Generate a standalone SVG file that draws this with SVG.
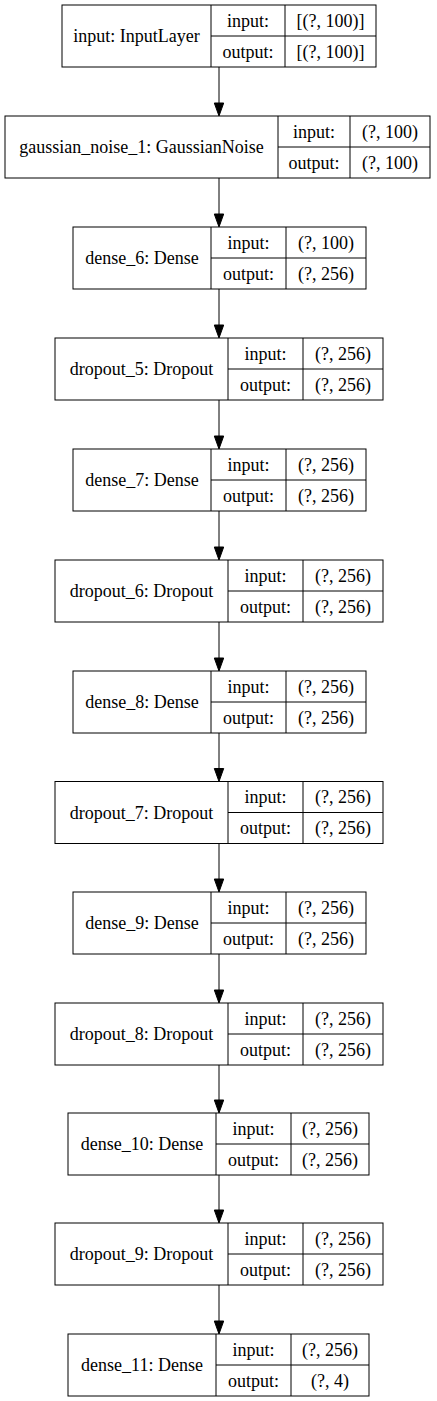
<svg xmlns="http://www.w3.org/2000/svg" width="437" height="1401" viewBox="0 0 437 1401">
<defs>
<style>
.b{fill:#fff;stroke:#000;stroke-width:1}
.l{stroke:#000;stroke-width:1;fill:none}
text{font-family:"Liberation Serif","Times New Roman",serif;font-size:18px;fill:#000;text-anchor:middle}
.e{stroke:#000;stroke-width:1;fill:none}
.h{fill:#000;stroke:#000;stroke-width:1}
</style>
</defs>
<rect width="437" height="1401" fill="#fff"/>
<g id="connectors">
<path class="e" d="M219,67V103"/><polygon class="h" points="214.3,103 223.7,103 219,116"/>
<path class="e" d="M219,178V214"/><polygon class="h" points="214.3,214 223.7,214 219,227"/>
<path class="e" d="M219,289V325"/><polygon class="h" points="214.3,325 223.7,325 219,338"/>
<path class="e" d="M219,400V436"/><polygon class="h" points="214.3,436 223.7,436 219,449"/>
<path class="e" d="M219,511V547"/><polygon class="h" points="214.3,547 223.7,547 219,560"/>
<path class="e" d="M219,622V658"/><polygon class="h" points="214.3,658 223.7,658 219,671"/>
<path class="e" d="M219,733V768.5"/><polygon class="h" points="214.3,768.5 223.7,768.5 219,781.5"/>
<path class="e" d="M219,843.5V879"/><polygon class="h" points="214.3,879 223.7,879 219,892"/>
<path class="e" d="M219,954V990"/><polygon class="h" points="214.3,990 223.7,990 219,1003"/>
<path class="e" d="M219,1065V1100"/><polygon class="h" points="214.3,1100 223.7,1100 219,1113"/>
<path class="e" d="M219,1175V1210"/><polygon class="h" points="214.3,1210 223.7,1210 219,1223"/>
<path class="e" d="M219,1285V1321"/><polygon class="h" points="214.3,1321 223.7,1321 219,1334"/>
</g>
<g id="input">
<rect class="b" x="62" y="5" width="314" height="62"/>
<path class="l" d="M211,5V67M285,5V67M211,36H376"/>
<text x="136.5" y="42">input: InputLayer</text>
<text x="248" y="26.5">input:</text>
<text x="248" y="57.5">output:</text>
<text x="330.5" y="26.5">[(?, 100)]</text>
<text x="330.5" y="57.5">[(?, 100)]</text>
</g>
<g id="gaussian_noise_1">
<rect class="b" x="5" y="116" width="425" height="62"/>
<path class="l" d="M278,116V178M350,116V178M278,147H430"/>
<text x="141.5" y="153">gaussian_noise_1: GaussianNoise</text>
<text x="314" y="137.5">input:</text>
<text x="314" y="168.5">output:</text>
<text x="390" y="137.5">(?, 100)</text>
<text x="390" y="168.5">(?, 100)</text>
</g>
<g id="dense_6">
<rect class="b" x="73" y="227" width="293" height="62"/>
<path class="l" d="M211,227V289M286,227V289M211,258H366"/>
<text x="142" y="264">dense_6: Dense</text>
<text x="248.5" y="248.5">input:</text>
<text x="248.5" y="279.5">output:</text>
<text x="326" y="248.5">(?, 100)</text>
<text x="326" y="279.5">(?, 256)</text>
</g>
<g id="dropout_5">
<rect class="b" x="55" y="338" width="328" height="62"/>
<path class="l" d="M228,338V400M303,338V400M228,369H383"/>
<text x="141.5" y="375">dropout_5: Dropout</text>
<text x="265.5" y="359.5">input:</text>
<text x="265.5" y="390.5">output:</text>
<text x="343" y="359.5">(?, 256)</text>
<text x="343" y="390.5">(?, 256)</text>
</g>
<g id="dense_7">
<rect class="b" x="73" y="449" width="293" height="62"/>
<path class="l" d="M211,449V511M286,449V511M211,480H366"/>
<text x="142" y="486">dense_7: Dense</text>
<text x="248.5" y="470.5">input:</text>
<text x="248.5" y="501.5">output:</text>
<text x="326" y="470.5">(?, 256)</text>
<text x="326" y="501.5">(?, 256)</text>
</g>
<g id="dropout_6">
<rect class="b" x="55" y="560" width="328" height="62"/>
<path class="l" d="M228,560V622M303,560V622M228,591H383"/>
<text x="141.5" y="597">dropout_6: Dropout</text>
<text x="265.5" y="581.5">input:</text>
<text x="265.5" y="612.5">output:</text>
<text x="343" y="581.5">(?, 256)</text>
<text x="343" y="612.5">(?, 256)</text>
</g>
<g id="dense_8">
<rect class="b" x="73" y="671" width="293" height="62"/>
<path class="l" d="M211,671V733M286,671V733M211,702H366"/>
<text x="142" y="708">dense_8: Dense</text>
<text x="248.5" y="692.5">input:</text>
<text x="248.5" y="723.5">output:</text>
<text x="326" y="692.5">(?, 256)</text>
<text x="326" y="723.5">(?, 256)</text>
</g>
<g id="dropout_7">
<rect class="b" x="55" y="781.5" width="328" height="62"/>
<path class="l" d="M228,781.5V843.5M303,781.5V843.5M228,812.5H383"/>
<text x="141.5" y="818.5">dropout_7: Dropout</text>
<text x="265.5" y="803">input:</text>
<text x="265.5" y="834">output:</text>
<text x="343" y="803">(?, 256)</text>
<text x="343" y="834">(?, 256)</text>
</g>
<g id="dense_9">
<rect class="b" x="73" y="892" width="293" height="62"/>
<path class="l" d="M211,892V954M286,892V954M211,923H366"/>
<text x="142" y="929">dense_9: Dense</text>
<text x="248.5" y="913.5">input:</text>
<text x="248.5" y="944.5">output:</text>
<text x="326" y="913.5">(?, 256)</text>
<text x="326" y="944.5">(?, 256)</text>
</g>
<g id="dropout_8">
<rect class="b" x="55" y="1003" width="328" height="62"/>
<path class="l" d="M228,1003V1065M303,1003V1065M228,1034H383"/>
<text x="141.5" y="1040">dropout_8: Dropout</text>
<text x="265.5" y="1024.5">input:</text>
<text x="265.5" y="1055.5">output:</text>
<text x="343" y="1024.5">(?, 256)</text>
<text x="343" y="1055.5">(?, 256)</text>
</g>
<g id="dense_10">
<rect class="b" x="68" y="1113" width="301" height="62"/>
<path class="l" d="M216,1113V1175M291,1113V1175M216,1144H369"/>
<text x="142" y="1150">dense_10: Dense</text>
<text x="253.5" y="1134.5">input:</text>
<text x="253.5" y="1165.5">output:</text>
<text x="330" y="1134.5">(?, 256)</text>
<text x="330" y="1165.5">(?, 256)</text>
</g>
<g id="dropout_9">
<rect class="b" x="55" y="1223" width="328" height="62"/>
<path class="l" d="M228,1223V1285M303,1223V1285M228,1254H383"/>
<text x="141.5" y="1260">dropout_9: Dropout</text>
<text x="265.5" y="1244.5">input:</text>
<text x="265.5" y="1275.5">output:</text>
<text x="343" y="1244.5">(?, 256)</text>
<text x="343" y="1275.5">(?, 256)</text>
</g>
<g id="dense_11">
<rect class="b" x="68" y="1334" width="301" height="62"/>
<path class="l" d="M216,1334V1396M291,1334V1396M216,1365H369"/>
<text x="142" y="1371">dense_11: Dense</text>
<text x="253.5" y="1355.5">input:</text>
<text x="253.5" y="1386.5">output:</text>
<text x="330" y="1355.5">(?, 256)</text>
<text x="330" y="1386.5">(?, 4)</text>
</g>
</svg>
